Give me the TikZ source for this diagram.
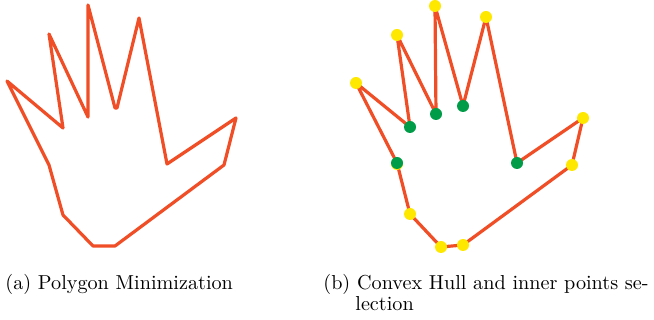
\documentclass[tikz,border=0pt]{standalone}
\usepackage{tikz}
\usetikzlibrary{positioning}
\definecolor{outline}{RGB}{240,78,38}
\definecolor{hull}{RGB}{255,232,0}
\definecolor{inner}{RGB}{0,156,72}

\begin{document}
\begin{tikzpicture}[x=1pt, y=-1pt,
  contour/.style={draw=outline, line width=3.2pt, line join=round},
  hullpt/.style={circle, fill=hull, inner sep=0pt, minimum size=12pt},
  innerpt/.style={circle, fill=inner, inner sep=0pt, minimum size=12pt},
  caption/.style={font=\fontsize{10}{12}\selectfont, anchor=base west,
    inner sep=0pt, scale=2.02, transform shape}]

\useasboundingbox (0,0) rectangle (654,320);

% reduced polygon of the hand
\coordinate (a1) at (7,81);
\coordinate (a2) at (63,128);
\coordinate (a3) at (49,34);
\coordinate (a4) at (88,117);
\coordinate (a5) at (88,5);
\coordinate (a6) at (115,108);
\coordinate (a7) at (117,108);
\coordinate (a8) at (139,18);
\coordinate (a9) at (167,164);
\coordinate (a10) at (236,118);
\coordinate (a11) at (224,165);
\coordinate (a12) at (115,246);
\coordinate (a13) at (93,246);
\coordinate (a14) at (63,215);
\coordinate (a15) at (49,165);
\draw[contour] (a1) -- (a2) -- (a3) -- (a4) -- (a5) -- (a6) -- (a7) -- (a8)
  -- (a9) -- (a10) -- (a11) -- (a12) -- (a13) -- (a14) -- (a15) -- cycle;

% same hand with hull and inner points
\coordinate (b1) at (356,83);
\coordinate (b2) at (410,127);
\coordinate (b3) at (397,35);
\coordinate (b4) at (436,114);
\coordinate (b5) at (435,6);
\coordinate (b6) at (463,106);
\coordinate (b7) at (486,17);
\coordinate (b8) at (517,163);
\coordinate (b9) at (583,118);
\coordinate (b10) at (572,165);
\coordinate (b11) at (463,245);
\coordinate (b12) at (441,247);
\coordinate (b13) at (410,214);
\coordinate (b14) at (397,163);
\draw[contour] (b1) -- (b2) -- (b3) -- (b4) -- (b5) -- (b6) -- (b7) -- (b8)
  -- (b9) -- (b10) -- (b11) -- (b12) -- (b13) -- (b14) -- cycle;

\node[hullpt] (p1) at (b1) {};
\node[hullpt] (p3) at (b3) {};
\node[hullpt] (p5) at (b5) {};
\node[hullpt] (p7) at (b7) {};
\node[hullpt] (p9) at (b9) {};
\node[hullpt] (p10) at (b10) {};
\node[hullpt] (p11) at (b11) {};
\node[hullpt] (p12) at (b12) {};
\node[hullpt] (p13) at (b13) {};
\node[hullpt] (p14y) at ([yshift=-1pt]b14) {};
\node[innerpt] (p2) at (b2) {};
\node[innerpt] (p4) at (b4) {};
\node[innerpt] (p6) at (b6) {};
\node[innerpt] (p8) at (b8) {};
\node[innerpt] (p14) at (b14) {};

% sub-captions
\node[caption] (capa) at (5,290) {(a) Polygon Minimization};
\node[caption] (capb) at (323,290) {(b) Convex Hull and inner points se-};
\node[caption] (capc) at (355,311) {lection};
\end{tikzpicture}
\end{document}
